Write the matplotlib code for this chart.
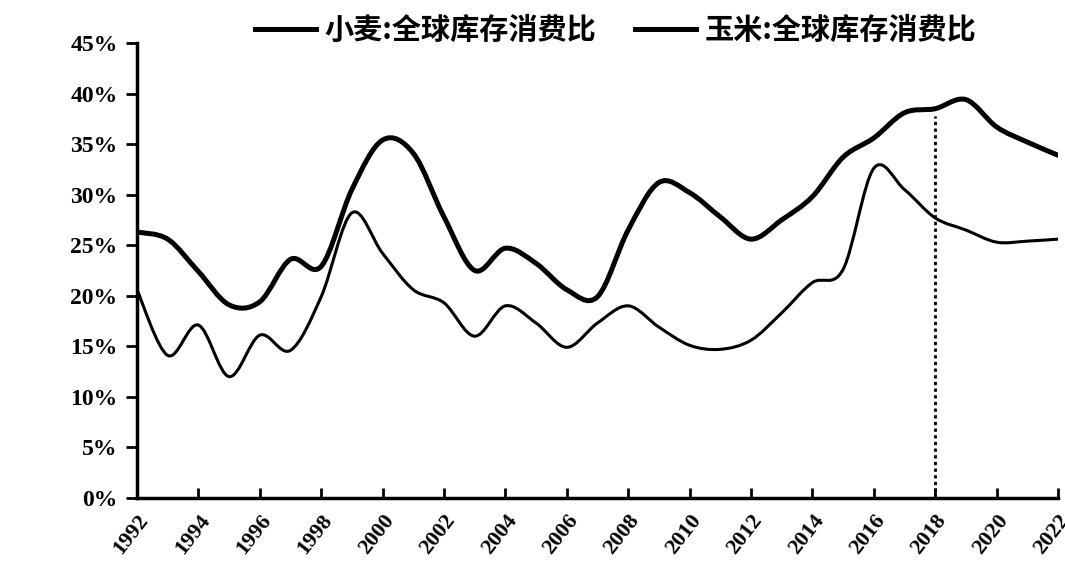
import numpy as np
import matplotlib.pyplot as plt
from matplotlib.path import Path
from matplotlib.patches import PathPatch
from matplotlib.lines import Line2D

# datos (% por año)
years = np.arange(1992, 2023)
wheat = [26.3, 25.6, 22.4, 19.1, 19.4, 23.6, 22.9, 30.5, 35.4, 34.1,
         27.8, 22.5, 24.7, 23.2, 20.6, 19.9, 26.5, 31.2, 30.2, 27.8,
         25.6, 27.5, 29.8, 33.7, 35.6, 38.1, 38.5, 39.4, 36.7, 35.2, 33.9]
corn = [20.6, 14.1, 17.1, 12.0, 16.1, 14.6, 19.9, 28.2, 24.2, 20.6,
        19.3, 16.0, 19.0, 17.3, 14.9, 17.3, 19.0, 16.9, 15.1, 14.7,
        15.6, 18.3, 21.3, 22.6, 32.6, 30.5, 27.7, 26.5, 25.3, 25.4, 25.6]
xticks = list(range(1992, 2023, 2))
yticks = list(range(0, 50, 5))
labels = ["小麦:全球库存消费比", "玉米:全球库存消费比"]
mark_year = 2018
mark_top = 37.8

cjk = ['Noto Sans CJK SC', 'DejaVu Sans']
serif = 'Liberation Serif'


def smooth_path(x, y):  # curva suave tipo excel (bezier por catmull-rom)
    p = np.column_stack([x, y]).astype(float)
    p = np.vstack([p[0], p, p[-1]])
    verts = [p[1]]
    codes = [Path.MOVETO]
    for i in range(1, len(p) - 2):
        c1 = p[i] + (p[i + 1] - p[i - 1]) / 6.0
        c2 = p[i + 1] - (p[i + 2] - p[i]) / 6.0
        verts += [c1, c2, p[i + 1]]
        codes += [Path.CURVE4] * 3
    return Path(verts, codes)


fig = plt.figure(figsize=(10.65, 5.77), dpi=100)
ax = fig.add_axes([0.1286, 0.137, 0.8648, 0.7885])

ax.add_patch(PathPatch(smooth_path(years, wheat), fill=False, lw=3.6, color='black', capstyle='round'))
ax.add_patch(PathPatch(smooth_path(years, corn), fill=False, lw=2.2, color='black', capstyle='round'))
ax.vlines(mark_year, 0, mark_top, colors='black', linestyles=(0, (1.2, 1.2)), lw=2)

ax.set_xlim(1992, 2022)
ax.set_ylim(0, 45)
ax.set_xticks(xticks)
ax.set_yticks(yticks)
ax.set_yticklabels([f"{v}%" for v in yticks], fontfamily=serif, fontweight='bold', fontsize=17)
ax.set_xticklabels([str(v) for v in xticks], fontfamily=serif, fontweight='bold', fontsize=16,
                   rotation=52, ha='right', va='top', rotation_mode='anchor')
ax.tick_params(axis='x', direction='in', length=7, width=2, pad=9)
ax.tick_params(axis='y', direction='out', length=8, width=2, pad=6)
for s in ['top', 'right']:
    ax.spines[s].set_visible(False)
for s in ['left', 'bottom']:
    ax.spines[s].set_linewidth(2.5)

handles = [Line2D([], [], color='black', lw=3.6), Line2D([], [], color='black', lw=3.6)]
fig.legend(handles, labels, loc='upper center', bbox_to_anchor=(0.578, 1.02), ncol=2, frameon=False,
           prop={'family': cjk, 'weight': 'bold', 'size': 21}, handlelength=2.1, handletextpad=0.3,
           columnspacing=1.3)

fig.savefig('out.png', dpi=100)
